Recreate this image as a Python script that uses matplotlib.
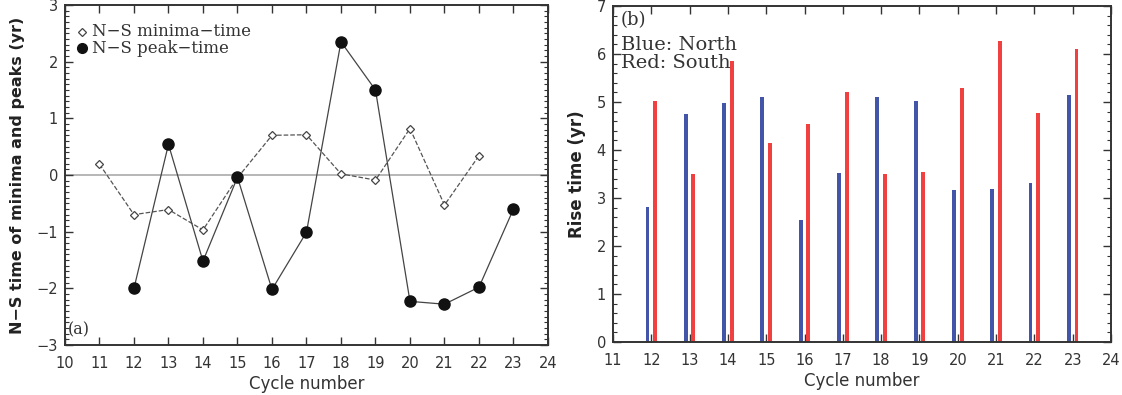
import numpy as np
import matplotlib
matplotlib.use('Agg')
import matplotlib.pyplot as plt
from matplotlib.ticker import MultipleLocator

# Panel (a): N-S time differences
min_cycles = [11, 12, 13, 14, 15, 16, 17, 18, 19, 20, 21, 22]
min_vals = [0.19, -0.70, -0.61, -0.97, -0.05, 0.70, 0.71, 0.02, -0.09, 0.82, -0.53, 0.34]
peak_cycles = [12, 13, 14, 15, 16, 17, 18, 19, 20, 21, 22, 23]
peak_vals = [-2.0, 0.54, -1.52, -0.04, -2.02, -1.01, 2.35, 1.50, -2.23, -2.28, -1.98, -0.60]

# Panel (b): rise times
rise_cycles = [12, 13, 14, 15, 16, 17, 18, 19, 20, 21, 22, 23]
rise_north = [2.82, 4.75, 4.98, 5.10, 2.55, 3.52, 5.11, 5.03, 3.16, 3.18, 3.31, 5.15]
rise_south = [5.03, 3.51, 5.86, 4.15, 4.54, 5.20, 3.49, 3.54, 5.29, 6.28, 4.77, 6.10]

fig = plt.figure(figsize=(11.22, 3.95), dpi=100)
ax1 = fig.add_axes([0.0579, 0.1266, 0.4305, 0.8608])
ax2 = fig.add_axes([0.5463, 0.1342, 0.4439, 0.8506])

def style(ax):
    ax.tick_params(which='both', direction='in', top=True, right=True, colors='#333333',
                   labelsize=10.5, pad=8)
    ax.tick_params(which='major', length=6, width=1)
    ax.tick_params(which='minor', length=3, width=0.8)
    ax.tick_params(axis='y', pad=5)
    for s in ax.spines.values():
        s.set_linewidth(1.4)
        s.set_color('#333333')

serif = 'DejaVu Serif'

# ---- panel a
ax1.axhline(0, color='#aaaaaa', lw=1.2, zorder=1)
ax1.plot(min_cycles, min_vals, '--', color='#555555', lw=0.9, zorder=2)
ax1.plot(min_cycles, min_vals, 'D', ms=4, mfc='white', mec='#444444', mew=0.9, ls='none', zorder=3)
ax1.plot(peak_cycles, peak_vals, '-', color='#444444', lw=0.9, zorder=2)
ax1.plot(peak_cycles, peak_vals, 'o', ms=8, color='#111111', ls='none', zorder=4)
ax1.set_xlim(10, 24)
ax1.set_ylim(-3, 3)
ax1.xaxis.set_major_locator(MultipleLocator(1))
ax1.yaxis.set_major_locator(MultipleLocator(1))
ax1.yaxis.set_minor_locator(MultipleLocator(0.1))
style(ax1)
ax1.set_xlabel('Cycle number', fontsize=12, color='#333333', labelpad=3)
ax1.set_ylabel('N\u2212S time of minima and peaks (yr)', fontsize=11.5, color='#222222',
               fontweight='bold', labelpad=8)
ax1.plot([10.48], [2.53], 'D', ms=4, mfc='white', mec='#444444', mew=0.9)
ax1.plot([10.48], [2.24], 'o', ms=7, color='#111111')
ax1.text(10.78, 2.53, 'N\u2212S minima\u2212time', family=serif, fontsize=12,
         color='#333333', va='center')
ax1.text(10.78, 2.24, 'N\u2212S peak\u2212time', family=serif, fontsize=12,
         color='#333333', va='center')
ax1.text(10.08, -2.73, '(a)', family=serif, fontsize=11.5, color='#333333', va='center')

# ---- panel b
x = np.array(rise_cycles)
ax2.bar(x - 0.1, rise_north, width=0.1, color='#4255a8', zorder=2)
ax2.bar(x + 0.1, rise_south, width=0.1, color='#f0403f', zorder=2)
ax2.set_xlim(11, 24)
ax2.set_ylim(0, 7)
ax2.xaxis.set_major_locator(MultipleLocator(1))
ax2.yaxis.set_major_locator(MultipleLocator(1))
ax2.yaxis.set_minor_locator(MultipleLocator(0.2))
style(ax2)
ax2.set_xlabel('Cycle number', fontsize=12, color='#333333', labelpad=3)
ax2.set_ylabel('Rise time (yr)', fontsize=12, color='#222222', fontweight='bold', labelpad=8)
ax2.text(11.2, 6.71, '(b)', family=serif, fontsize=13, color='#333333', va='center')
ax2.text(11.2, 6.19, 'Blue: North', family=serif, fontsize=14, color='#333333', va='center')
ax2.text(11.2, 5.81, 'Red: South', family=serif, fontsize=14, color='#333333', va='center')

fig.savefig('out.png', dpi=100)
